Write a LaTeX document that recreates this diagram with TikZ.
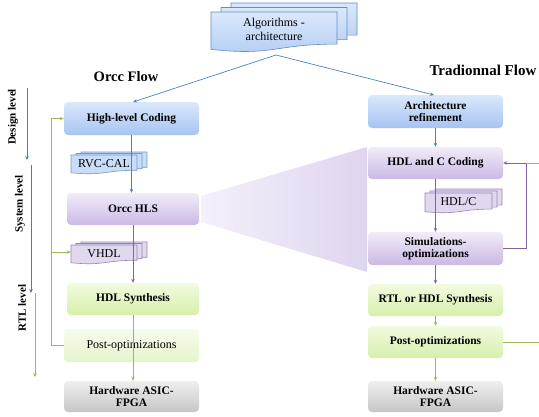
\documentclass[tikz,border=0pt]{standalone}
\usepackage{fontspec}
\setmainfont{Liberation Serif}
\usetikzlibrary{arrows.meta}
\definecolor{blueL}{HTML}{4F81BD}
\definecolor{purpL}{HTML}{8064A2}
\definecolor{greenL}{HTML}{9BBB59}
\definecolor{blueTop}{HTML}{DAE8FB}
\definecolor{blueBot}{HTML}{A6C4F2}
\definecolor{purpTop}{HTML}{F1ECF8}
\definecolor{purpBot}{HTML}{CAB9E5}
\definecolor{greenTop}{HTML}{F2FBE0}
\definecolor{greenBot}{HTML}{D6EFAA}
\definecolor{lgreenTop}{HTML}{F6FBEC}
\definecolor{lgreenBot}{HTML}{E5F4CC}
\definecolor{grayTop}{HTML}{EFEFEF}
\definecolor{grayBot}{HTML}{C6C6C6}
\definecolor{funL}{HTML}{F4F0FA}
\definecolor{funR}{HTML}{DFD4EF}
\newcommand\docsheet[5]{%
  \path[#5] ({#1},{#2}) -- ({#1+#3},{#2}) -- ({#1+#3},{#2+0.802*#4})
    .. controls ({#1+0.5*#3},{#2+0.802*#4}) and ({#1+0.5*#3},{#2+1.107*#4}) .. ({#1},{#2+0.934*#4}) -- cycle;}
% name, x, y, w, h, dx, dy, style, text
\newcommand\docstack[9]{%
  \docsheet{#2+2*#6}{#3-2*#7}{#4}{#5}{#8}
  \docsheet{#2+#6}{#3-#7}{#4}{#5}{#8}
  \docsheet{#2}{#3}{#4}{#5}{#8}
  \node[doctext, minimum width=#4pt, minimum height={0.86*#5 pt}] (#1) at ({#2+0.5*#4},{#3+0.43*#5}) {#9};}
\tikzset{
  box/.style={rounded corners=4pt, inner sep=0pt, align=center,
    font=\bfseries\fontsize{11.5}{12.5}\selectfont},
  bluebox/.style={box, top color=blueTop, bottom color=blueBot},
  purpbox/.style={box, top color=purpTop, bottom color=purpBot},
  greenbox/.style={box, top color=greenTop, bottom color=greenBot},
  lgreenbox/.style={box, top color=lgreenTop, bottom color=lgreenBot},
  graybox/.style={box, top color=grayTop, bottom color=grayBot},
  doctext/.style={inner sep=0pt, font=\fontsize{12}{13.5}\selectfont, align=center},
  bluedoc/.style={fill=blueTop!70!blueBot, draw=blueL!80, line width=0.6pt},
  purpdoc/.style={fill=purpTop!60!purpBot, draw=purpL!80, line width=0.6pt},
  algdoc/.style={top color=blueTop, bottom color=blueBot!85, draw=blueL!90, line width=0.6pt},
  tip/.style={-{Stealth[length=4pt,width=3.5pt]}},
  bline/.style={draw=blueL, line width=0.7pt},
  pline/.style={draw=purpL, line width=0.7pt},
  gline/.style={draw=greenL, line width=0.7pt},
  level/.style={rotate=90, font=\bfseries\fontsize{11}{12}\selectfont, inner sep=0pt},
  head/.style={font=\bfseries\fontsize{14.5}{16}\selectfont, inner sep=0pt},
}
\begin{document}
\begin{tikzpicture}[x=1pt,y=-1pt]
\useasboundingbox (0,0) rectangle (539,416);
% funnel
\path[left color=funL, right color=funR] (201,196) -- (367,147) -- (367,272) -- (201,222) -- cycle;
% headings
\node[head] (hl) at (126,77) {Orcc Flow};
\node[head, font=\bfseries\fontsize{15}{16}\selectfont] (hr) at (483,70) {Tradionnal Flow};
% algorithms doc
\docstack{alg}{211}{12}{126}{40}{10}{4.5}{algdoc}{Algorithms -\\architecture}
% left column
\node[bluebox, minimum width=135pt, minimum height=33pt] (L1) at (131.5,118.5) {High-level Coding};
\node[purpbox, minimum width=132pt, minimum height=32pt] (L2) at (133,209) {Orcc HLS};
\node[greenbox, minimum width=132pt, minimum height=32pt] (L3) at (133,299) {HDL Synthesis};
\node[lgreenbox, minimum width=135pt, minimum height=33pt, font=\fontsize{12}{13}\selectfont] (L4) at (131.5,345.5) {Post-optimizations};
\node[graybox, minimum width=135pt, minimum height=31pt] (L5) at (131.5,396.5) {Hardware ASIC-\\FPGA};
\docstack{rvc}{71}{155}{66}{19}{5}{1.5}{bluedoc}{RVC-CAL}
\docstack{vhdl}{71}{245}{66}{19}{5}{1.5}{purpdoc}{VHDL}
% right column
\node[bluebox, minimum width=135pt, minimum height=33pt] (R1) at (435.5,111.5) {Architecture\\refinement};
\node[purpbox, minimum width=135pt, minimum height=32pt] (R2) at (435.5,163) {HDL and C Coding};
\node[purpbox, minimum width=135pt, minimum height=33pt] (R3) at (435.5,248.5) {Simulations-\\optimizations};
\node[greenbox, minimum width=135pt, minimum height=32pt] (R4) at (435.5,300) {RTL or HDL Synthesis};
\node[greenbox, minimum width=135pt, minimum height=32pt] (R5) at (435.5,342) {Post-optimizations};
\node[graybox, minimum width=135pt, minimum height=31pt] (R6) at (435.5,396.5) {Hardware ASIC-\\FPGA};
\docstack{hdlc}{425}{193}{67}{20}{5}{2}{purpdoc}{HDL/C}
% top arrows
\coordinate (src) at (276,55);
\draw[bline, tip] (src) -- (133,102);
\draw[bline, tip] (src) -- (434,95);
% left flow
\draw[bline, tip] (L1.south) -- (L1.south |- L2.north);
\draw[pline, tip] (L2.south) -- (L3.north);
\draw[gline, tip] (L3.south) -- (L3.south |- L5.north);
% left feedback
\coordinate (fbL) at (51,252);
\draw[gline, tip] (L4.west) -- (51,345.5) -- (51,118.5) -- (L1.west);
\draw[gline, tip] (fbL) -- (fbL -| vhdl.west);
% right flow
\draw[bline, tip] (R1.south) -- (R2.north);
\draw[pline, tip] (R2.south) -- (R3.north);
\draw[pline, tip] (R3.south) -- (R4.north);
\draw[gline, tip] (R4.south) -- (R5.north);
\draw[gline, tip] (R5.south) -- (R6.north);
% right feedback
\coordinate (fbR) at (526,163);
\coordinate (edgeT) at (539,163);
\coordinate (edgeB) at (539,342);
\draw[pline, tip] (R3.east) -| (fbR) -- (R2.east);
\draw[gline] (edgeT) -- (fbR);
\draw[gline] (R5.east) -- (edgeB);
% level labels
\node[level] (d1) at (13,117) {Design level};
\node[level] (d2) at (20,204) {System level};
\node[level] (d3) at (22,308) {RTL level};
\coordinate (a1) at (27,88); \coordinate (a2) at (27,160);
\coordinate (b1) at (31,165); \coordinate (b2) at (31,293);
\coordinate (c1) at (35,293); \coordinate (c2) at (35,377);
\draw[bline, tip] (a1) -- (a2);
\draw[pline, tip] (b1) -- (b2);
\draw[gline, tip] (c1) -- (c2);
\end{tikzpicture}
\end{document}
